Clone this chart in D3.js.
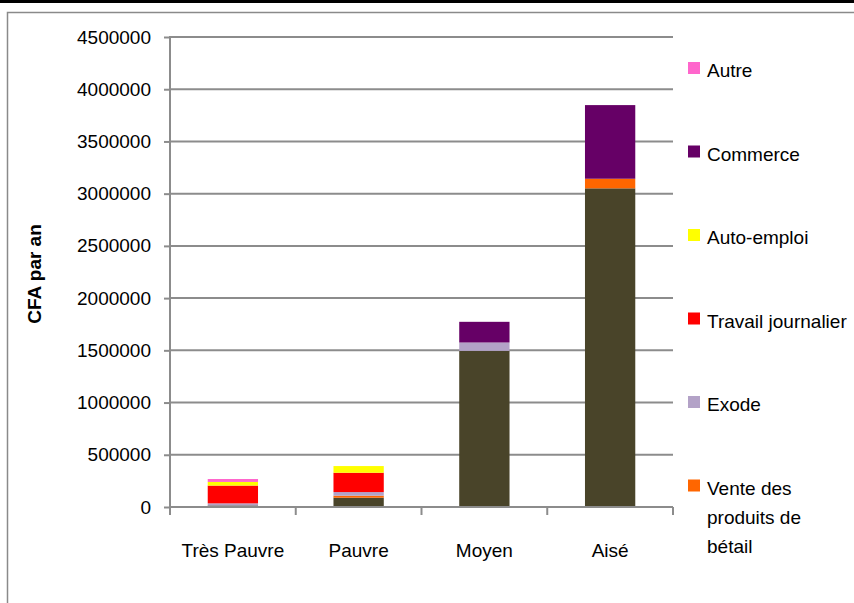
<!DOCTYPE html>
<html>
<head>
<meta charset="utf-8">
<script src="https://cdn.jsdelivr.net/npm/d3@7/dist/d3.min.js"></script>
<style>
  html, body { margin: 0; padding: 0; background: #fff; }
  svg { display: block; }
  text { font-family: "Liberation Sans", Arial, sans-serif; fill: #000; }
</style>
</head>
<body>
<svg id="chart" width="854" height="603"></svg>
<script>
// Income groups along the x axis
const categories = ["Très Pauvre", "Pauvre", "Moyen", "Aisé"];

// Income sources, stacked from the bottom up
const sourceNames = [
  "Vente des produits agricoles",
  "Vente des produits de bétail",
  "Exode",
  "Travail journalier",
  "Auto-emploi",
  "Commerce",
  "Autre"
];

// Legend labels (line breaks as shown in the legend)
const legendLabels = [
  "Vente des produits agricoles",
  "Vente des\nproduits de\nbétail",
  "Exode",
  "Travail journalier",
  "Auto-emploi",
  "Commerce",
  "Autre"
];

// CFA per year, one value per income group
const venteAgricole = [15000, 89000, 1495000, 3051000];
const venteBetail   = [0, 19000, 0, 92000];
const exode         = [20000, 35000, 80000, 0];
const travailJour   = [170000, 185000, 0, 0];
const autoEmploi    = [35000, 64000, 0, 0];
const commerce      = [0, 0, 198000, 705000];
const autre         = [28000, 0, 0, 0];

const seriesValues = [venteAgricole, venteBetail, exode, travailJour, autoEmploi, commerce, autre];
const seriesColors = ["#494429", "#ff6600", "#b3a2c7", "#ff0000", "#ffff00", "#660066", "#ff66cc"];

const yTicks = [0, 500000, 1000000, 1500000, 2000000, 2500000, 3000000, 3500000, 4000000, 4500000];
const yTitle = "CFA par an";

// Build a table for d3.stack
const table = categories.map((c, i) => {
  const row = { category: c };
  sourceNames.forEach((s, k) => { row[s] = seriesValues[k][i]; });
  return row;
});

const svg = d3.select("#chart");
const W = 854, H = 603;

// Top rule and chart frame
svg.append("rect").attr("x", 0).attr("y", 0).attr("width", W).attr("height", 3).attr("fill", "#000");
svg.append("rect")
  .attr("x", 7.5).attr("y", 12.5).attr("width", W + 10).attr("height", H + 10)
  .attr("fill", "none").attr("stroke", "#8a8a8a").attr("stroke-width", 1.5);

const plot = { left: 170, right: 673, top: 37, bottom: 507 };

const x = d3.scaleBand()
  .domain(categories)
  .range([plot.left, plot.right])
  .paddingInner(0.6)
  .paddingOuter(0.3);

const y = d3.scaleLinear()
  .domain([0, 4500000])
  .range([plot.bottom, plot.top]);

const gridColor = "#8c8c8c";

// Horizontal gridlines
svg.append("g")
  .selectAll("line")
  .data(yTicks.filter(t => t > 0))
  .join("line")
  .attr("x1", plot.left).attr("x2", plot.right)
  .attr("y1", d => y(d)).attr("y2", d => y(d))
  .attr("stroke", gridColor).attr("stroke-width", 2);

// Stacked bars
const stack = d3.stack().keys(sourceNames);
const layers = stack(table);

svg.append("g")
  .selectAll("g")
  .data(layers)
  .join("g")
  .attr("fill", (d, i) => seriesColors[i])
  .selectAll("rect")
  .data(d => d)
  .join("rect")
  .attr("x", d => x(d.data.category))
  .attr("width", x.bandwidth())
  .attr("y", d => y(d[1]))
  .attr("height", d => y(d[0]) - y(d[1]));

// Y axis
const yAxis = d3.axisLeft(y)
  .tickValues(yTicks)
  .tickFormat(d3.format("d"))
  .tickSize(6)
  .tickPadding(13);

const gy = svg.append("g")
  .attr("transform", `translate(${plot.left},0)`)
  .call(yAxis);
gy.select(".domain").remove();
gy.selectAll(".tick line").attr("stroke", gridColor).attr("stroke-width", 2);
gy.selectAll(".tick text")
  .attr("font-size", 19)
  .attr("font-family", "Liberation Sans, Arial, sans-serif")
  .attr("fill", "#000");
gy.append("line")
  .attr("x1", 0).attr("x2", 0)
  .attr("y1", plot.top - 1).attr("y2", plot.bottom + 8)
  .attr("stroke", gridColor).attr("stroke-width", 2);

// X axis line and category ticks at band boundaries
const gx = svg.append("g");
gx.append("line")
  .attr("x1", plot.left).attr("x2", plot.right)
  .attr("y1", plot.bottom).attr("y2", plot.bottom)
  .attr("stroke", gridColor).attr("stroke-width", 2);
const boundaries = categories.map(c => x(c) - x.step() * x.paddingInner() / 2)
  .concat([plot.right]);
gx.selectAll("line.tk")
  .data(boundaries.slice(1))
  .join("line")
  .attr("class", "tk")
  .attr("x1", d => d).attr("x2", d => d)
  .attr("y1", plot.bottom).attr("y2", plot.bottom + 8)
  .attr("stroke", gridColor).attr("stroke-width", 2);
gx.selectAll("text")
  .data(categories)
  .join("text")
  .attr("x", d => x(d) + x.bandwidth() / 2)
  .attr("y", plot.bottom + 50)
  .attr("text-anchor", "middle")
  .attr("font-size", 19)
  .text(d => d);

// Y axis title
svg.append("text")
  .attr("transform", "translate(41,274) rotate(-90)")
  .attr("text-anchor", "middle")
  .attr("font-size", 19)
  .attr("font-weight", "bold")
  .text(yTitle);

// Legend, top entry first; entries that would start below the frame are left out
const legend = svg.append("g");
const legendOrder = d3.range(sourceNames.length).reverse();
let cy = 70;
legendOrder.forEach(k => {
  const lines = legendLabels[k].split("\n");
  if (cy + 7 + (lines.length - 1) * 29 > H) return;
  const item = legend.append("g");
  item.append("rect")
    .attr("x", 688).attr("y", cy - 8)
    .attr("width", 12).attr("height", 12)
    .attr("fill", seriesColors[k]);
  const t = item.append("text")
    .attr("x", 707).attr("y", cy + 7)
    .attr("font-size", 19);
  lines.forEach((ln, j) => {
    t.append("tspan").attr("x", 707).attr("dy", j === 0 ? 0 : 29).text(ln);
  });
  cy += 83.5 + (lines.length - 1) * 29;
});
</script>
</body>
</html>
